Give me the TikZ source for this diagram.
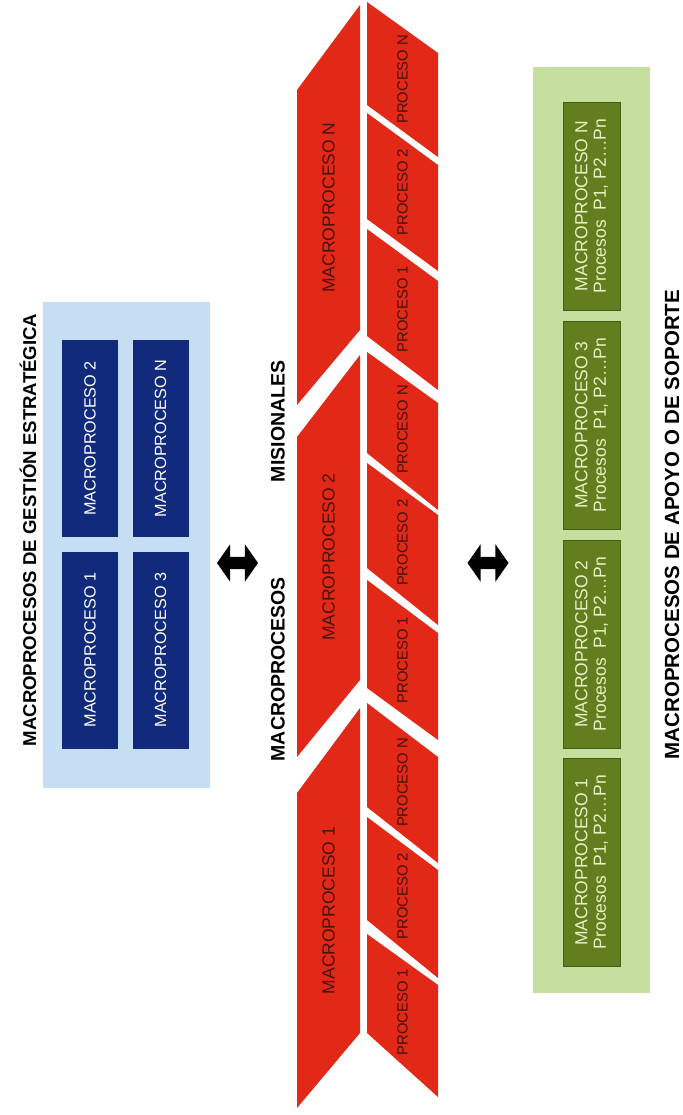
\documentclass[tikz,border=0pt]{standalone}
\usepackage{fontspec}
\setmainfont{Liberation Sans}
\usetikzlibrary{shapes.arrows}
\definecolor{procred}{RGB}{226,40,22}
\definecolor{redtxt}{RGB}{70,18,12}
\definecolor{lightblue}{RGB}{197,222,243}
\definecolor{navy}{RGB}{17,42,124}
\definecolor{lightgreen}{RGB}{196,223,158}
\definecolor{darkgreen}{RGB}{98,126,30}
\definecolor{greenline}{RGB}{70,95,20}
\definecolor{greentxt}{RGB}{232,242,196}
\begin{document}
\begin{tikzpicture}[x=1pt,y=-1pt,
  titletext/.style={rotate=90,font=\bfseries\fontsize{18.6}{20}\selectfont,inner sep=0pt},
  navybox/.style={rotate=90,fill=navy,text=white,minimum width=197pt,minimum height=56pt,inner sep=0pt,font=\fontsize{16.2}{18}\selectfont},
  greenbox/.style={rotate=90,fill=darkgreen,draw=greenline,line width=0.8pt,text=greentxt,minimum width=208pt,minimum height=57pt,inner sep=0pt,align=center,font=\fontsize{17.5}{18.5}\selectfont},
  macrotext/.style={rotate=90,text=redtxt,inner sep=0pt,font=\fontsize{17.5}{19}\selectfont},
  proctext/.style={rotate=90,text=redtxt,inner sep=0pt,font=\fontsize{14.8}{16}\selectfont},
  bigarrow/.style={double arrow,fill=black,inner sep=6pt,minimum height=41pt,minimum width=37pt,double arrow head extend=12.5pt,double arrow tip angle=110}
]
\useasboundingbox (0,0) rectangle (682,1115);

% ---------- left panel: gestion estrategica ----------
\node[titletext] (gtitle) at (28,530) {MACROPROCESOS DE GESTIÓN ESTRATÉGICA};
\node[fill=lightblue,minimum width=167pt,minimum height=486pt,inner sep=0pt] (gpanel) at (126.5,545) {};
\node[navybox] (g2) at (90,438.5) {MACROPROCESO 2};
\node[navybox] (gn) at (160.5,438.5) {MACROPROCESO N};
\node[navybox] (g1) at (90,650) {MACROPROCESO 1};
\node[navybox] (g3) at (160.5,650) {MACROPROCESO 3};

% ---------- arrows ----------
\node[bigarrow] (arrowA) at (237.5,563) {};
\node[bigarrow] (arrowB) at (488,563) {};

% ---------- center: misionales ----------
\node[titletext,font=\bfseries\fontsize{19.5}{21}\selectfont] (mtitle) at (278,561) {MACROPROCESOS\hspace{95pt}MISIONALES};

% macroprocesos (left column)
\fill[procred] (297,90) -- (360,5) -- (360,330) -- (297,405) -- cycle;
\fill[procred] (297,437) -- (360,355) -- (360,680) -- (297,757) -- cycle;
\fill[procred] (297,793) -- (360,708) -- (360,1033) -- (297,1108) -- cycle;
\node[macrotext] (mN) at (328.5,207.5) {MACROPROCESO N};
\node[macrotext] (m2) at (328.5,557) {MACROPROCESO 2};
\node[macrotext] (m1) at (328.5,910.5) {MACROPROCESO 1};

% procesos (right column)
\fill[procred] (367,2) -- (438,53) -- (438,157) -- (367,105) -- cycle;
\fill[procred] (367,113) -- (438,165) -- (438,271) -- (367,219) -- cycle;
\fill[procred] (367,229) -- (438,281) -- (438,390) -- (367,336) -- cycle;
\fill[procred] (367,352) -- (438,403) -- (438,510) -- (367,453) -- cycle;
\fill[procred] (367,463) -- (438,515) -- (438,625) -- (367,568) -- cycle;
\fill[procred] (367,580) -- (438,633) -- (438,740) -- (367,688) -- cycle;
\fill[procred] (367,703) -- (438,757) -- (438,863) -- (367,807) -- cycle;
\fill[procred] (367,817) -- (438,870) -- (438,978) -- (367,920) -- cycle;
\fill[procred] (367,934) -- (438,985) -- (438,1097) -- (367,1033) -- cycle;
\node[proctext] (pNN) at (402.5,79.25) {PROCESO N};
\node[proctext] (pN2) at (402.5,192) {PROCESO 2};
\node[proctext] (pN1) at (402.5,309) {PROCESO 1};
\node[proctext] (p2N) at (402.5,429.5) {PROCESO N};
\node[proctext] (p22) at (402.5,542.75) {PROCESO 2};
\node[proctext] (p21) at (402.5,660.25) {PROCESO 1};
\node[proctext] (p1N) at (402.5,782.5) {PROCESO N};
\node[proctext] (p12) at (402.5,896.25) {PROCESO 2};
\node[proctext] (p11) at (402.5,1012.25) {PROCESO 1};

% ---------- right panel: apoyo ----------
\node[fill=lightgreen,minimum width=117pt,minimum height=926pt,inner sep=0pt] (spanel) at (591.5,530) {};
\node[greenbox] (sN) at (591.5,206) {MACROPROCESO N\\Procesos~ P1, P2…Pn};
\node[greenbox] (s3) at (591.5,425) {MACROPROCESO 3\\Procesos~ P1, P2…Pn};
\node[greenbox] (s2) at (591.5,644) {MACROPROCESO 2\\Procesos~ P1, P2…Pn};
\node[greenbox] (s1) at (591.5,862) {MACROPROCESO 1\\Procesos~ P1, P2…Pn};
\node[titletext,font=\bfseries\fontsize{20.5}{22}\selectfont] (stitle) at (672,524.5) {MACROPROCESOS DE APOYO O DE SOPORTE};
\end{tikzpicture}
\end{document}
